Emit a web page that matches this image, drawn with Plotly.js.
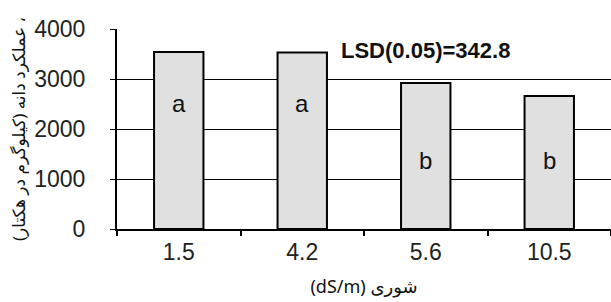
<!DOCTYPE html>
<html>
<head>
<meta charset="utf-8">
<script src="https://cdn.plot.ly/plotly-3.0.1.min.js"></script>
<style>html,body{margin:0;padding:0;background:#fff;}#chart{width:611px;height:302px;}</style>
</head>
<body>
<div id="chart"></div>
<script>
const categories = ["1.5", "4.2", "5.6", "10.5"];
const yieldValues = [3540, 3530, 2920, 2660];
const groupLetters = ["a", "a", "b", "b"];
const letterLevels = [2520, 2520, 1380, 1380];
const yTicks = [0, 1000, 2000, 3000, 4000];
const lsdText = "LSD(0.05)=342.8";

const trace = {
  type: "bar",
  x: categories,
  y: yieldValues,
  width: 0.4,
  marker: {color: "#e0e0e0", line: {color: "#000", width: 2}},
  hoverinfo: "skip"
};

const annotations = categories.map((c, i) => ({
  x: i, y: letterLevels[i], xref: "x", yref: "y",
  text: groupLetters[i], showarrow: false,
  font: {family: "Liberation Sans, Arial", size: 24, color: "#111"}
}));
annotations.push({
  x: 1.3, y: 3580, xref: "x", yref: "y", xanchor: "left",
  text: "<b>" + lsdText + "</b>", showarrow: false,
  font: {family: "Liberation Sans, Arial", size: 22, color: "#111"}
});

const layout = {
  width: 611, height: 302,
  margin: {l: 117, r: 0, t: 29, b: 73},
  paper_bgcolor: "#fff", plot_bgcolor: "#fff",
  showlegend: false,
  font: {family: "Liberation Sans, Arial", color: "#111"},
  xaxis: {
    type: "category",
    range: [-0.5, 3.5],
    showline: true, linecolor: "#000", linewidth: 2,
    ticks: "outside", tickson: "boundaries", ticklen: 5, tickcolor: "#000", tickwidth: 2,
    tickfont: {size: 23, color: "#222"},
    ticklabelstandoff: 1,
    showgrid: false,
    title: {text: "(dS/m) شوری", font: {family: "Noto Sans, DejaVu Sans", size: 18, color: "#111"}, standoff: 17}
  },
  yaxis: {
    range: [0, 4000],
    tickvals: yTicks,
    showline: true, linecolor: "#000", linewidth: 2,
    ticks: "outside", ticklen: 5, tickcolor: "#000", tickwidth: 1,
    tickfont: {size: 23, color: "#222"},
    ticklabelstandoff: 20,
    showgrid: true, gridcolor: "#000", gridwidth: 1,
    zeroline: false,
    title: {text: "\u200F، عملکرد دانه (کیلوگرم در هکتار)", font: {family: "Noto Sans, DejaVu Sans", size: 17, color: "#111"}, standoff: 4}
  },
  annotations: annotations
};

Plotly.newPlot("chart", [trace], layout, {staticPlot: true, displayModeBar: false});
</script>
</body>
</html>
